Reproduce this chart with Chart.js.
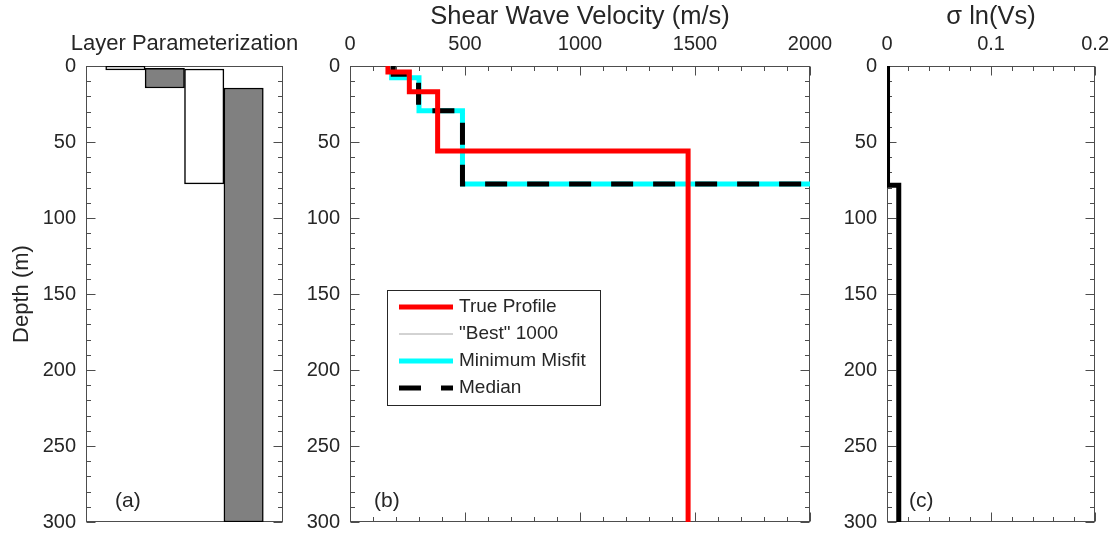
<!DOCTYPE html>
<html>
<head>
<meta charset="utf-8">
<title>Vs profile inversion</title>
<script src="https://cdn.jsdelivr.net/npm/chart.js"></script>
<style>
    body { margin: 0; background: #ffffff; }
    #wrap { position: relative; width: 1119px; height: 544px; }
    #wrap canvas { position: absolute; left: 0; top: 0; }
</style>
</head>
<body>
<div id="wrap">
    <canvas id="chartA" width="1119" height="544"></canvas>
    <canvas id="chartB" width="1119" height="544"></canvas>
    <canvas id="chartC" width="1119" height="544"></canvas>
</div>
<script>
// (a) layer parameterization: depth range searched for each layer (m)
var layerIds = [1, 2, 3, 4];
var layerTop = [0, 1.5, 2, 14.5];
var layerBottom = [2.5, 14.5, 77.5, 300];

// (b) shear wave velocity profiles: Vs of each layer and depths of layer boundaries
var trueVs = [165, 258, 381, 1470];
var trueDepth = [0, 4, 17, 56, 300];
var minMisfitVs = [181, 300, 489, 2500];
var minMisfitDepth = [0, 7.8, 29.5, 77.7, 300];
var medianVs = [188, 298, 489, 2500];
var medianDepth = [0, 5.5, 29.5, 77.7, 300];

// (c) standard deviation of ln(Vs)
var sigmaLnVs = [0.0005, 0.0113];
var sigmaDepth = [0, 78.5, 300];

var W = 1119, H = 544;
var TEXT = '#262626';
var FONT = '"Liberation Sans", Arial, sans-serif';

Chart.defaults.font.family = FONT;
Chart.defaults.color = TEXT;
Chart.defaults.animation = false;
Chart.defaults.responsive = false;
Chart.defaults.devicePixelRatio = 1;
Chart.defaults.plugins.legend.display = false;
Chart.defaults.plugins.tooltip.enabled = false;

// turn layer values + boundaries into stair-step points
function stairs(vals, depths) {
    var pts = [];
    for (var i = 0; i < vals.length; i++) {
        pts.push({x: vals[i], y: depths[i]});
        pts.push({x: vals[i], y: depths[i + 1]});
    }
    return pts;
}

function depthAxis(width, withTitle) {
    return {
        type: 'linear', min: 0, max: 300, reverse: true,
        afterFit: function (s) { s.width = width; },
        grid: { display: false, drawTicks: false }, border: { display: false },
        ticks: {
            stepSize: 10, padding: 10, autoSkip: false, color: TEXT, font: { size: 20 },
            callback: function (v) { return v % 50 === 0 ? String(v) : ''; }
        },
        title: { display: withTitle, text: 'Depth (m)', color: TEXT, font: { size: 22 }, padding: { top: 9, bottom: 0 } }
    };
}

function topAxis(max, step, title, fmt) {
    return {
        type: 'linear', position: 'top', min: 0, max: max,
        afterFit: function (s) { s.height = 66; },
        grid: { display: false, drawTicks: false }, border: { display: false },
        ticks: { stepSize: step, padding: 10, autoSkip: false, maxRotation: 0, minRotation: 0, color: TEXT, font: { size: 20 }, callback: fmt },
        title: { display: true, text: title, color: TEXT, font: { size: 25.5 }, padding: { top: 2, bottom: 0 } }
    };
}

function profile(label, pts, color, width, order, dash) {
    return {
        label: label, data: pts, showLine: true, pointRadius: 0,
        borderColor: color, backgroundColor: color, borderWidth: width,
        borderDash: dash || [], borderCapStyle: 'butt', borderJoinStyle: 'miter', order: order
    };
}

// box around the axes with inward ticks (matlab style), panel tag and optional title
var matlabAxes = {
    id: 'matlabAxes',
    beforeDatasetsDraw: function (chart, args, opts) {
        var ctx = chart.ctx, a = chart.chartArea;
        var L = Math.round(a.left) + 0.5, R = Math.round(a.right) - 0.5;
        var T = Math.round(a.top) + 0.5, B = Math.round(a.bottom) - 0.5;
        ctx.save();
        ctx.strokeStyle = '#4d4d4d';
        ctx.lineWidth = 1;
        ctx.strokeRect(L, T, R - L, B - T);
        ctx.beginPath();
        (opts.axes || []).forEach(function (id) {
            var s = chart.scales[id];
            s.ticks.forEach(function (t) {
                var len = t.label === '' ? 4.5 : 9;
                var p = Math.round(s.getPixelForValue(t.value)) + 0.5;
                if (s.isHorizontal()) {
                    ctx.moveTo(p, T); ctx.lineTo(p, T + len);
                    ctx.moveTo(p, B); ctx.lineTo(p, B - len);
                } else {
                    ctx.moveTo(L, p); ctx.lineTo(L + len, p);
                    ctx.moveTo(R, p); ctx.lineTo(R - len, p);
                }
            });
        });
        ctx.stroke();
        ctx.restore();
    },
    afterDraw: function (chart, args, opts) {
        var ctx = chart.ctx, a = chart.chartArea;
        ctx.save();
        ctx.fillStyle = TEXT;
        ctx.textBaseline = 'middle';
        if (opts.tag) {
            ctx.font = '21px ' + FONT;
            ctx.textAlign = 'left';
            ctx.fillText(opts.tag, a.left + opts.tagOffset, a.bottom - 21);
        }
        if (opts.title) {
            ctx.font = '22px ' + FONT;
            ctx.textAlign = 'center';
            ctx.fillText(opts.title, (a.left + a.right) / 2, 44);
        }
        ctx.restore();
    }
};

// legend box inside panel (b), built from the datasets
var profileLegend = {
    id: 'profileLegend',
    afterDatasetsDraw: function (chart, args, opts) {
        if (!opts.show) return;
        var ctx = chart.ctx, a = chart.chartArea;
        var x0 = a.left + 37, y0 = 290, w = 213, h = 115;
        ctx.save();
        ctx.fillStyle = '#ffffff';
        ctx.fillRect(x0, y0, w, h);
        ctx.strokeStyle = '#262626';
        ctx.lineWidth = 1;
        ctx.strokeRect(x0 + 0.5, y0 + 0.5, w, h);
        ctx.font = '19px ' + FONT;
        ctx.textBaseline = 'middle';
        ctx.textAlign = 'left';
        chart.data.datasets.forEach(function (ds, i) {
            var y = y0 + 17 + i * 27;
            ctx.beginPath();
            ctx.strokeStyle = ds.borderColor;
            ctx.lineWidth = ds.borderWidth;
            ctx.setLineDash(ds.borderDash || []);
            ctx.moveTo(x0 + 12, y);
            ctx.lineTo(x0 + 66, y);
            ctx.stroke();
            ctx.setLineDash([]);
            ctx.fillStyle = TEXT;
            ctx.fillText(ds.label, x0 + 72, y);
        });
        ctx.restore();
    }
};

// (a)
new Chart(document.getElementById('chartA'), {
    type: 'bar',
    data: {
        datasets: [{
            data: layerIds.map(function (id, i) { return {x: id, y: [layerTop[i], layerBottom[i]]}; }),
            backgroundColor: ['#ffffff', '#808080', '#ffffff', '#808080'],
            borderColor: '#000000', borderWidth: 1.5, borderSkipped: false,
            barPercentage: 1, categoryPercentage: 1
        }]
    },
    options: {
        layout: { padding: { left: 0, top: 66, right: W - 283, bottom: H - 532 } },
        scales: {
            x: { type: 'linear', min: 0, max: 5, offset: false, display: false, ticks: { stepSize: 1 } },
            y: depthAxis(86, true)
        },
        plugins: { matlabAxes: { axes: ['y'], tag: '(a)', tagOffset: 29, title: 'Layer Parameterization' } }
    },
    plugins: [matlabAxes]
});

// (b)
new Chart(document.getElementById('chartB'), {
    type: 'scatter',
    data: {
        datasets: [
            profile('True Profile', stairs(trueVs, trueDepth), '#ff0000', 5, 0),
            profile('"Best" 1000', [], '#a6a6a6', 1, 3),
            profile('Minimum Misfit', stairs(minMisfitVs, minMisfitDepth), '#00ffff', 5, 2),
            profile('Median', stairs(medianVs, medianDepth), '#000000', 5, 1, [22, 20])
        ]
    },
    options: {
        layout: { padding: { left: 290, top: 0, right: W - 810, bottom: H - 532 } },
        scales: {
            x: topAxis(2000, 100, 'Shear Wave Velocity (m/s)', function (v) { return v % 500 === 0 ? String(v) : ''; }),
            y: depthAxis(60, false)
        },
        plugins: {
            matlabAxes: { axes: ['x', 'y'], tag: '(b)', tagOffset: 24 },
            profileLegend: { show: true }
        }
    },
    plugins: [matlabAxes, profileLegend]
});

// (c)
new Chart(document.getElementById('chartC'), {
    type: 'scatter',
    data: {
        datasets: [profile('sigma', stairs(sigmaLnVs, sigmaDepth), '#000000', 5, 0)]
    },
    options: {
        layout: { padding: { left: 815, top: 0, right: W - 1100, bottom: H - 532 } },
        scales: {
            x: topAxis(0.2, 0.02, '\u03c3 ln(Vs)', function (v) {
                return Math.abs(v * 10 - Math.round(v * 10)) < 1e-6 ? String(Math.round(v * 10) / 10) : '';
            }),
            y: depthAxis(72, false)
        },
        plugins: { matlabAxes: { axes: ['x', 'y'], tag: '(c)', tagOffset: 22 } }
    },
    plugins: [matlabAxes]
});
</script>
</body>
</html>
